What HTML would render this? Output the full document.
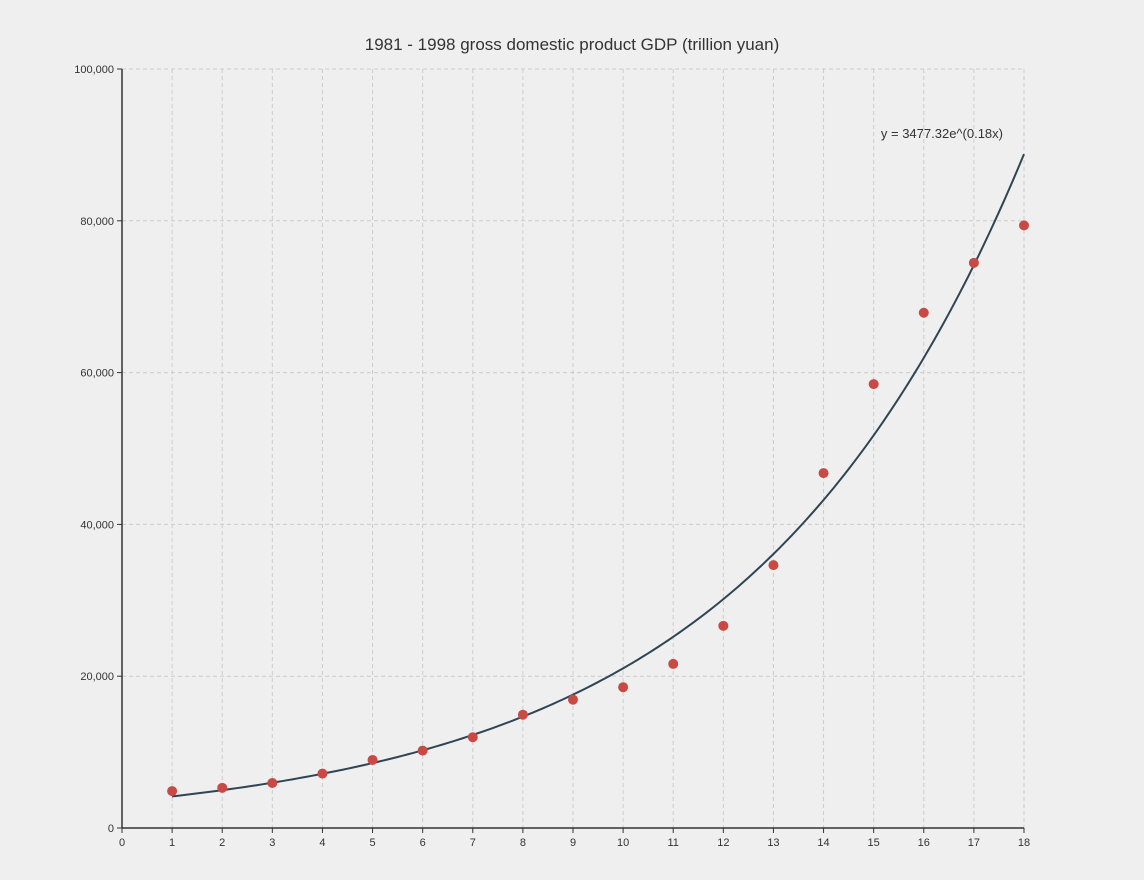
<!DOCTYPE html>
<html><head><meta charset="utf-8"><style>
body{margin:0;background:#efefef;}
svg{display:block;font-family:"Liberation Sans",sans-serif;}
</style></head><body>
<svg id="chart" width="1144" height="880" viewBox="0 0 1144 880">
<rect width="1144" height="880" fill="#efefef"/>
<text x="572" y="50" text-anchor="middle" font-size="17" fill="#333">1981 - 1998 gross domestic product GDP (trillion yuan)</text>
<g id="grid"></g><g id="axes"></g><g id="curve"></g><g id="points"></g>
<text x="1003" y="138" text-anchor="end" font-size="13" fill="#333">y = 3477.32e^(0.18x)</text>
</svg>
<script>
const xs=[1,2,3,4,5,6,7,8,9,10,11,12,13,14,15,16,17,18];
const gdp=[4862.4,5294.7,5934.5,7171.0,8964.4,10202.2,11962.5,14928.3,16909.2,18547.9,21617.8,26638.1,34634.4,46759.4,58478.1,67884.6,74462.6,79395.7];
const xTicks=[0,1,2,3,4,5,6,7,8,9,10,11,12,13,14,15,16,17,18];
const yTicks=[0,20000,40000,60000,80000,100000];
const coefA=3477.32, coefB=0.18;
const X=v=>122+v*(1024-122)/18;
const Y=v=>828-v*(828-69)/100000;
const NS="http://www.w3.org/2000/svg";
function mk(p,t,a){const e=document.createElementNS(NS,t);for(const k in a)e.setAttribute(k,a[k]);p.appendChild(e);return e;}
const grid=document.getElementById('grid'),axes=document.getElementById('axes');
xTicks.forEach(t=>{
 if(t>0){const l=mk(grid,'line',{x1:X(t),x2:X(t),y1:69,y2:828,stroke:'#ccc','stroke-dasharray':'4,3'});
 
 }
 mk(axes,'line',{x1:X(t),x2:X(t),y1:828,y2:833,stroke:'#333'});
 const tx=mk(axes,'text',{x:X(t),y:846,'text-anchor':'middle','font-size':11,fill:'#333'});tx.textContent=t;
 
 
});
yTicks.forEach(t=>{
 if(t>0){const l=mk(grid,'line',{x1:122,x2:1024,y1:Y(t),y2:Y(t),stroke:'#ccc','stroke-dasharray':'4,3'});
 
 }
 mk(axes,'line',{x1:117,x2:122,y1:Y(t),y2:Y(t),stroke:'#333'});
 const tx=mk(axes,'text',{x:114,y:Y(t)+4,'text-anchor':'end','font-size':11,fill:'#333'});tx.textContent=t.toLocaleString('en-US');
 
 
});
const ya=mk(axes,'line',{x1:122,x2:122,y1:69,y2:828,stroke:'#333','stroke-width':1.5});


const xa=mk(axes,'line',{x1:122,x2:1024,y1:828,y2:828,stroke:'#333','stroke-width':1.5});


let d='';
for(let i=0;i<=170;i++){const x=1+i*17/170;d+=(i?'L':'M')+X(x).toFixed(2)+','+Y(coefA*Math.exp(coefB*x)).toFixed(2);}
const c=mk(document.getElementById('curve'),'path',{d:d,fill:'none',stroke:'#2f4554','stroke-width':2});


const pts=document.getElementById('points');
xs.forEach((x,i)=>{const p=mk(pts,'circle',{cx:X(x),cy:Y(gdp[i]),r:5,fill:'#c94a45'});
 
 });
</script>
</body></html>
